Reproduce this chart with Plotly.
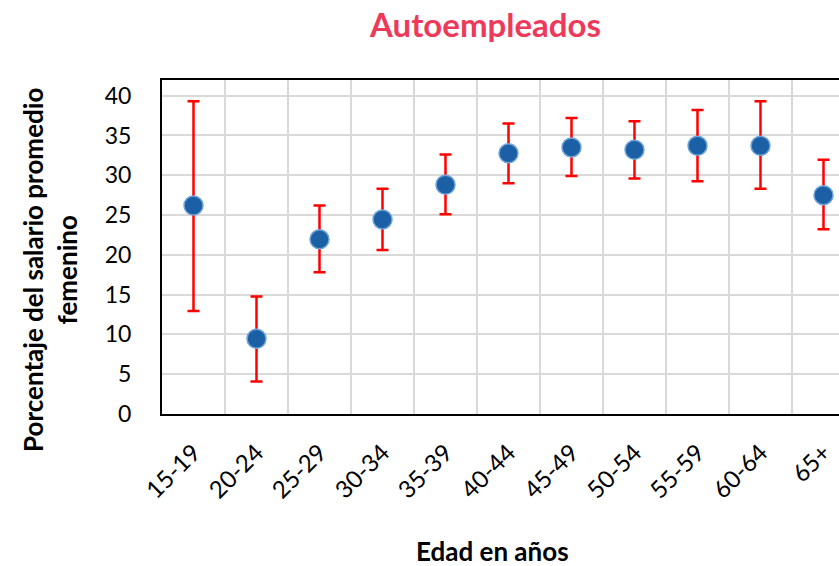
import plotly.graph_objects as go

categorias = ["15-19", "20-24", "25-29", "30-34", "35-39", "40-44",
              "45-49", "50-54", "55-59", "60-64", "65+"]
valores = [26.2, 9.45, 21.95, 24.45, 28.8, 32.75, 33.5, 33.2, 33.7, 33.7, 27.5]
limite_sup = [39.3, 14.75, 26.2, 28.3, 32.6, 36.5, 37.2, 36.8, 38.2, 39.3, 31.95]
limite_inf = [12.95, 4.08, 17.8, 20.6, 25.1, 29.0, 29.9, 29.6, 29.25, 28.3, 23.2]
y_ticks = [0, 5, 10, 15, 20, 25, 30, 35, 40]

err_plus = [s - v for s, v in zip(limite_sup, valores)]
err_minus = [v - i for v, i in zip(valores, limite_inf)]

W, H = 839, 566
L, R, T, B = 162, 0, 80, 152
PW, PH = W - L - R, H - T - B
cat_px = 63.0
x_max = -0.5 + PW / cat_px

FONT = "Lato, 'Open Sans', sans-serif"


def px_x(x):
    return (x - L) / PW


def px_y(y):
    return (H - B - y) / PH


fig = go.Figure()
fig.add_trace(go.Scatter(
    x=categorias, y=valores, mode="markers",
    marker=dict(size=19, color="#1B5FA5", line=dict(color="#6FA3DA", width=1.5)),
    error_y=dict(type="data", symmetric=False, array=err_plus, arrayminus=err_minus,
                 color="#FF0000", thickness=2.5, width=6),
    showlegend=False,
))

fig.update_layout(
    width=W, height=H,
    margin=dict(l=L, r=R, t=T, b=B),
    paper_bgcolor="white", plot_bgcolor="white",
    font=dict(family=FONT, color="black"),
    xaxis=dict(
        type="category", range=[-0.5, x_max],
        tickson="boundaries", showgrid=True, gridcolor="#D9D9D9", gridwidth=1.5,
        showline=True, linecolor="black", linewidth=2, mirror=True,
        ticks="", tickangle=-45, tickfont=dict(size=24, family=FONT),
        ticklabelstandoff=13,
    ),
    yaxis=dict(
        range=[0, 41.97], tickvals=y_ticks, ticktext=[str(v) for v in y_ticks],
        showgrid=True, gridcolor="#D9D9D9", gridwidth=1.5,
        showline=True, linecolor="black", linewidth=2, mirror=False,
        ticks="", tickfont=dict(size=23, family=FONT), ticklabelstandoff=24,
        zeroline=False,
    ),
    annotations=[
        dict(text="<b>Autoempleados</b>", x=px_x(485), y=px_y(24),
             xref="paper", yref="paper", showarrow=False, xanchor="center", yanchor="middle",
             font=dict(size=33, color="#EE3A5A", family=FONT)),
        dict(text="<b>Edad en años</b>", x=px_x(492), y=px_y(551),
             xref="paper", yref="paper", showarrow=False, xanchor="center", yanchor="middle",
             font=dict(size=26, color="black", family=FONT)),
        dict(text="<b>Porcentaje del salario promedio<br>femenino</b>",
             x=px_x(50), y=px_y(270),
             xref="paper", yref="paper", showarrow=False, xanchor="center", yanchor="middle",
             textangle=-90, font=dict(size=26, color="black", family=FONT)),
    ],
)

fig.write_html("out.html", config={"displayModeBar": False},
               post_script="document.body.style.margin='0';document.body.style.padding='0';")
